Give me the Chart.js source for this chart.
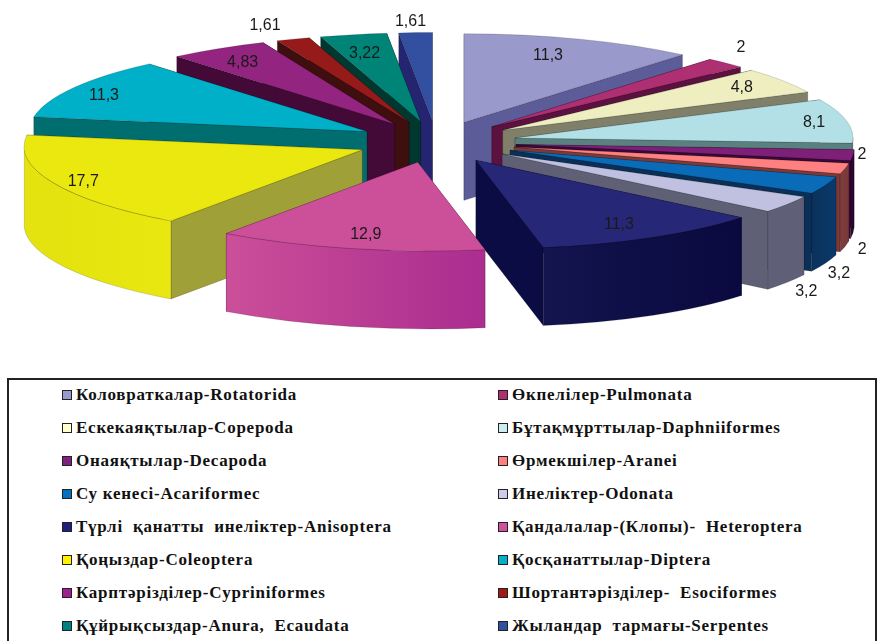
<!DOCTYPE html>
<html>
<head>
<meta charset="utf-8">
<title>Таксондар үлесі</title>
<style>
  html, body { margin: 0; padding: 0; background: #fff; }
  body { position: relative; width: 882px; height: 641px; overflow: hidden; }
  canvas { position: absolute; left: 0; top: 0; }
  #legend {
    position: absolute; left: 7px; top: 378px; width: 870px; height: 280px;
    border: 2px solid #222; box-sizing: border-box;
  }
  #legend div {
    position: absolute; white-space: pre; color: #111;
    font: bold 17px "Liberation Serif", serif; line-height: 20px; letter-spacing: 0.75px;
  }
  #legend i {
    position: absolute; left: -14px; top: 5px; width: 10px; height: 10px;
    border: 1.5px solid #222; box-sizing: border-box;
  }
</style>
<script src="https://cdn.jsdelivr.net/npm/chart.js@4"></script>
</head>
<body>
<canvas id="pie" width="882" height="370"></canvas>
<div id="legend"></div>
<script>
// Үлес, % - легенда ретімен
const categories = [
  "Коловраткалар-Rotatorida", "Өкпелілер-Pulmonata",
  "Ескекаяқтылар-Copepoda", "Бұтақмұрттылар-Daphniiformes",
  "Онаяқтылар-Decapoda", "Өрмекшілер-Aranei",
  "Су кенесі-Acariformec", "Инеліктер-Odonata",
  "Түрлі  қанатты  инеліктер-Anisoptera", "Қандалалар-(Клопы)-  Heteroptera",
  "Қоңыздар-Coleoptera", "Қосқанаттылар-Diptera",
  "Карптәрізділер-Cypriniformes", "Шортантәрізділер-  Esociformes",
  "Құйрықсыздар-Anura,  Ecaudata", "Жыландар  тармағы-Serpentes"
];
const values = [11.3, 2, 4.8, 8.1, 2, 2, 3.2, 3.2, 11.3, 12.9, 17.7, 11.3, 4.83, 1.61, 3.22, 1.61];

const topColors = ["#9999CC", "#AE2F72", "#EEEEC0", "#B2E0E6", "#7E1F78", "#FF8080", "#0A6CB8", "#C0C0E0",
  "#272778", "#CC5099", "#EBE80F", "#00B0C8", "#932581", "#961A1A", "#008478", "#334FA0"];
const sideColors = ["#5C5C99", "#5C1240", "#80806A", "#5A8080", "#3A0A3A", "#7A3A3A", "#0A3058", "#5F5F75",
  "#0C0C44", "#A82E8E", "#A0A038", "#006E6E", "#430A38", "#3F0F0F", "#003830", "#242470"];
const rimLeft = ["#5C5C99", "#5C1240", "#80806A", "#5A8080", "#380838", "#80403F", "#0B3058", "#5F5F78",
  "#14144F", "#CC5099", "#E4E20F", "#006E6E", "#430A38", "#3F0F0F", "#003830", "#242470"];
const rimRight = ["#5C5C99", "#5C1240", "#80806A", "#5A8080", "#2A062A", "#7A3A3A", "#0A3868", "#5F5F78",
  "#0A0A40", "#AC2E90", "#E9E70F", "#006E6E", "#430A38", "#3F0F0F", "#003830", "#242470"];
const legendColors = ["#9999CC", "#B03070", "#FFFFCC", "#CCECF0", "#802080", "#FF8080", "#0070C0", "#CCCCE6",
  "#202080", "#D050A0", "#FFF000", "#00B0C8", "#A02090", "#A01818", "#008080", "#3050A0"];

// Жазулардың тілім төбесінен ығысуы, px
const labelNudge = [[84, -67], [249, -79], [239, -43], [299, -15], [346, 10], [348, 103], [329, 123], [304, 138],
  [143, 64], [-52, 72], [-279, 32], [-263, -36], [-152, -62], [-144, -97], [-56, -68], [-22, -99]];

const RADIUS = 338, SQUASH = 0.262, EXPLODE = 80, DEPTH = 78, LEAN = 0.14;

// Тілім төбесінің экрандағы орны
function apexOf(arc) {
  const mid = (arc.startAngle + arc.endAngle) / 2;
  return { x: arc.x + EXPLODE * Math.cos(mid), y: arc.y + EXPLODE * SQUASH * Math.sin(mid), mid };
}

// Алдыңғы тілімдер перспективада оңға қарай сәл қисаяды
function lean(ctx, a, down) {
  ctx.translate(a.x, a.y + down);
  if (Math.sin(a.mid) > 0) ctx.transform(1, 0, LEAN, 1, 0, 0);
  ctx.translate(-a.x, -a.y);
}

function wall(ctx, a, angle, color) {
  const rx = a.x + RADIUS * Math.cos(angle), ry = a.y + RADIUS * SQUASH * Math.sin(angle);
  ctx.beginPath();
  ctx.save();
  lean(ctx, a, 0);
  ctx.moveTo(a.x, a.y);
  ctx.lineTo(rx, ry);
  ctx.restore();
  ctx.save();
  lean(ctx, a, DEPTH);
  ctx.lineTo(rx, ry);
  ctx.lineTo(a.x, a.y);
  ctx.restore();
  ctx.closePath();
  ctx.fillStyle = color;
  ctx.fill();
  ctx.strokeStyle = "rgba(0,0,0,.3)";
  ctx.lineWidth = 0.6;
  ctx.stroke();
}

function rim(ctx, a, arc, i) {
  const from = Math.max(arc.startAngle, 0), to = Math.min(arc.endAngle, Math.PI);
  if (to <= from) return;
  const g = ctx.createLinearGradient(a.x + RADIUS * Math.cos(to), 0, a.x + RADIUS * Math.cos(from), 0);
  g.addColorStop(0, rimLeft[i]);
  g.addColorStop(1, rimRight[i]);
  ctx.beginPath();
  ctx.save();
  lean(ctx, a, 0);
  ctx.ellipse(a.x, a.y, RADIUS, RADIUS * SQUASH, 0, from, to);
  ctx.restore();
  ctx.save();
  lean(ctx, a, DEPTH);
  ctx.ellipse(a.x, a.y, RADIUS, RADIUS * SQUASH, 0, to, from, true);
  ctx.restore();
  ctx.closePath();
  ctx.fillStyle = g;
  ctx.fill();
  ctx.strokeStyle = "rgba(0,0,0,.25)";
  ctx.lineWidth = 0.6;
  ctx.stroke();
}

// Элементтерді арттан алға қарай салады: қабырғалар, сосын үсті
const pie3d = {
  id: "pie3d",
  beforeDatasetsDraw(chart) {
    const ctx = chart.ctx;
    const arcs = chart.getDatasetMeta(0).data.map((arc, i) => ({ arc, i, a: apexOf(arc) }));
    arcs.sort((p, q) => Math.sin(p.a.mid) - Math.sin(q.a.mid));
    arcs.forEach(({ arc, i, a }) => {
      [arc.startAngle, arc.endAngle]
        .sort((s, e) => Math.sin(s) - Math.sin(e))
        .forEach(angle => wall(ctx, a, angle, sideColors[i]));
      rim(ctx, a, arc, i);
      ctx.save();
      lean(ctx, a, 0);
      ctx.translate(a.x, a.y);
      ctx.scale(1, SQUASH);
      ctx.translate(-arc.x, -arc.y);
      arc.draw(ctx);
      ctx.restore();
    });
    return false;
  },
  afterDraw(chart) {
    const ctx = chart.ctx;
    ctx.save();
    ctx.font = '16px "Liberation Sans", sans-serif';
    ctx.fillStyle = "#1a1a1a";
    ctx.textAlign = "center";
    ctx.textBaseline = "middle";
    chart.getDatasetMeta(0).data.forEach((arc, i) => {
      const a = apexOf(arc);
      ctx.fillText(String(values[i]).replace(".", ","), a.x + labelNudge[i][0], a.y + labelNudge[i][1]);
    });
    ctx.restore();
  }
};

new Chart(document.getElementById("pie"), {
  type: "pie",
  data: {
    labels: categories,
    datasets: [{
      data: values,
      backgroundColor: topColors,
      borderColor: "rgba(0,0,0,.3)",
      borderWidth: 0.8
    }]
  },
  options: {
    responsive: false,
    animation: false,
    radius: RADIUS,
    layout: { padding: { right: 9, bottom: 86 } },
    plugins: { legend: { display: false }, tooltip: { enabled: false } }
  },
  plugins: [pie3d]
});

// Екі бағанды легенда
const legend = document.getElementById("legend");
categories.forEach((name, i) => {
  const row = document.createElement("div");
  row.style.left = (i % 2 ? 503 : 67) + "px";
  row.style.top = (Math.floor(i / 2) * 33 + 5) + "px";
  row.textContent = name;
  const box = document.createElement("i");
  box.style.background = legendColors[i];
  row.appendChild(box);
  legend.appendChild(row);
});
</script>
</body>
</html>
